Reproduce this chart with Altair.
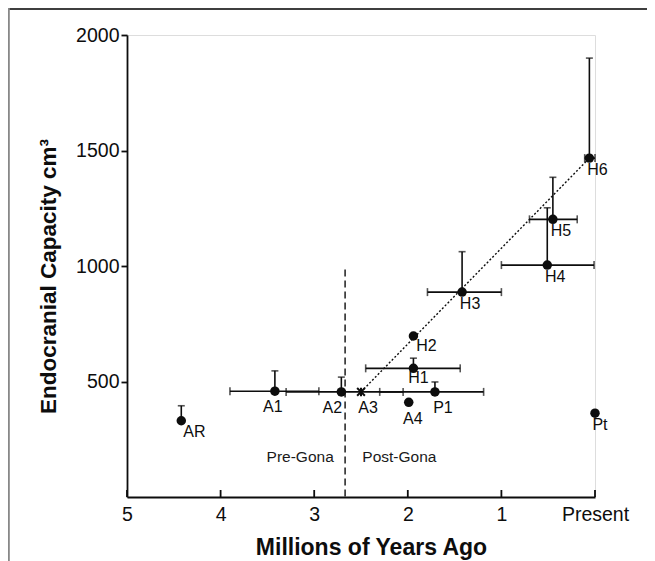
import altair as alt
import pandas as pd

# ---------------- data ----------------
names = ["AR", "A1", "A2", "A3", "A4", "P1", "H1", "H2", "H3", "H4", "H5", "H6", "Pt"]
mya = [4.42, 3.42, 2.71, 2.50, 1.99, 1.71, 1.94, 1.94, 1.42, 0.51, 0.45, 0.06, 0.0]
capacity = [330, 458, 455, 455, 410, 455, 557, 697, 887, 1004, 1202, 1467, 363]
cap_upper = [395, 546, 519, None, None, 498, 601, None, 1062, 1252, 1384, 1900, None]
age_oldest = [None, 3.9, 3.3, None, None, 2.3, 2.45, None, 1.79, 1.0, 0.70, 0.11, None]
age_youngest = [None, 2.95, 2.05, None, None, 1.19, 1.44, None, 1.0, 0.01, 0.19, 0.0, None]

trend_mya = [2.50, 0.06]
trend_cap = [455, 1467]

gona_mya = [2.67]
gona_top = [985]

region_text = ["Pre-Gona", "Post-Gona"]
region_mya = [3.15, 2.09]
region_cap = [173, 173]

x_ticks = [5, 4, 3, 2, 1, 0]
y_ticks = [500, 1000, 1500, 2000]

# label offsets (styling only): dx, dy, align
label_style = {
    "AR": (2, 11, "left"), "A1": (-2, 16, "center"), "A2": (-9, 16, "center"),
    "A3": (7, 16, "center"), "A4": (4, 17, "center"), "P1": (8, 16, "center"),
    "H1": (5, 10, "center"), "H2": (13, 10, "center"), "H3": (8, 12, "center"),
    "H4": (8, 12, "center"), "H5": (8, 12, "center"), "H6": (8, 12, "center"),
    "Pt": (5, 12, "center"),
}

df = pd.DataFrame({"name": names, "mya": mya, "cap": capacity,
                   "upper": cap_upper, "old": age_oldest, "young": age_youngest})
trend = pd.DataFrame({"mya": trend_mya, "cap": trend_cap})
gona = pd.DataFrame({"mya": gona_mya, "top": gona_top})
regions = pd.DataFrame({"text": region_text, "mya": region_mya, "cap": region_cap})
xt = pd.DataFrame({"mya": x_ticks})

FONT = "Liberation Sans"
INK = "#0d0d0d"
LW = 1.6
W, H = 468, 462

x_scale = alt.Scale(domain=[5, 0], nice=False, zero=False)
y_scale = alt.Scale(domain=[0, 2000], nice=False)

x_axis = alt.Axis(
    values=x_ticks, labelExpr="datum.value == 0 ? 'Present' : datum.label",
    title="Millions of Years Ago", grid=False, ticks=False, tickSize=0,
    domainColor=INK, domainWidth=1.8, labelFont=FONT, labelFontSize=19.5,
    labelColor=INK, labelPadding=8, labelFlush=False, labelOverlap=False,
    titleFont=FONT, titleFontSize=23, titleFontWeight="bold", titleColor=INK,
    titleX=244, titleY=57, titleAlign="center", titleBaseline="alphabetic",
)
y_axis = alt.Axis(
    values=y_ticks, format="d", title="Endocranial Capacity cm³", grid=False,
    tickSize=6, tickColor=INK, tickWidth=1.8, domainColor=INK, domainWidth=1.8,
    labelFont=FONT, labelFontSize=19.5, labelColor=INK, labelPadding=2,
    labelFlush=False, labelOverlap=False,
    titleFont=FONT, titleFontSize=22.5, titleFontWeight="bold", titleColor=INK,
    titleX=-72, titleY=241, titleAngle=270, titleAlign="center",
    titleBaseline="alphabetic",
)


def X(field="mya"):
    return alt.X(field, type="quantitative", scale=x_scale, axis=x_axis)


def Y(field="cap"):
    return alt.Y(field, type="quantitative", scale=y_scale, axis=y_axis)


base = alt.Chart(df)
vert = base.transform_filter("isValid(datum.upper)")
horiz = base.transform_filter("isValid(datum.old)")

v_rules = vert.mark_rule(color=INK, strokeWidth=LW).encode(
    x=X(), y=Y(), y2="upper:Q")
v_caps = vert.mark_tick(color=INK, orient="horizontal", size=7, thickness=LW).encode(
    x=X(), y=Y("upper"))
h_rules = horiz.mark_rule(color=INK, strokeWidth=LW).encode(
    x=X("old"), x2="young:Q", y=Y())
h_cap_old = horiz.mark_tick(color=INK, orient="vertical", size=8, thickness=LW).encode(
    x=X("old"), y=Y())
h_cap_young = horiz.mark_tick(color=INK, orient="vertical", size=8, thickness=LW).encode(
    x=X("young"), y=Y())

trend_line = alt.Chart(trend).mark_line(color=INK, strokeWidth=1.4, strokeDash=[2, 2]).encode(
    x=X(), y=Y())

gona_line = alt.Chart(gona).mark_rule(color=INK, strokeWidth=1.4, strokeDash=[7, 4]).encode(
    x=X(), y=alt.Y("top", type="quantitative", scale=y_scale, axis=y_axis),
    y2=alt.datum(0))

dots = base.transform_filter("datum.name != 'A3'").mark_circle(
    color=INK, opacity=1, size=90).encode(x=X(), y=Y())

star = base.transform_filter("datum.name == 'A3'").mark_point(
    shape="M-1,-1L1,1M-1,1L1,-1M0,-1.1L0,1.1", filled=False, color=INK,
    strokeWidth=2, size=60, opacity=1).encode(x=X(), y=Y())

x_tick_marks = alt.Chart(xt).mark_rule(color=INK, strokeWidth=1.8).encode(
    x=X(), y=alt.value(H - 7), y2=alt.value(H))

region_labels = alt.Chart(regions).mark_text(
    font=FONT, fontSize=15.5, color="#1a1a1a", align="center", baseline="middle").encode(
    x=X(), y=Y(), text="text:N")

label_layers = []
for nm in names:
    dx, dy, al = label_style[nm]
    label_layers.append(
        base.transform_filter(f"datum.name == '{nm}'").mark_text(
            font=FONT, fontSize=16, color=INK, align=al, baseline="middle", dx=dx, dy=dy
        ).encode(x=X(), y=Y(), text="name:N")
    )

# decorative frame (top and left edges of the figure border)
frame_top = alt.Chart(trend).mark_rule(color="#333333", strokeWidth=1.5).encode(
    x=alt.value(-119), x2=alt.value(520), y=alt.value(-26))
frame_left = alt.Chart(trend).mark_rule(color="#888888", strokeWidth=1.5).encode(
    x=alt.value(-118.2), y=alt.value(-27), y2=alt.value(530))

chart = alt.layer(
    gona_line, trend_line, h_rules, h_cap_old, h_cap_young, v_rules, v_caps,
    dots, star, x_tick_marks, region_labels, *label_layers, frame_top, frame_left,
).properties(
    width=W, height=H,
    autosize=alt.AutoSizeParams(type="none"),
    padding={"left": 119, "top": 27, "right": 52, "bottom": 64},
).configure_view(stroke=None).configure(background="white")

chart.save("out.html", embed_options={"renderer": "svg", "actions": False})
